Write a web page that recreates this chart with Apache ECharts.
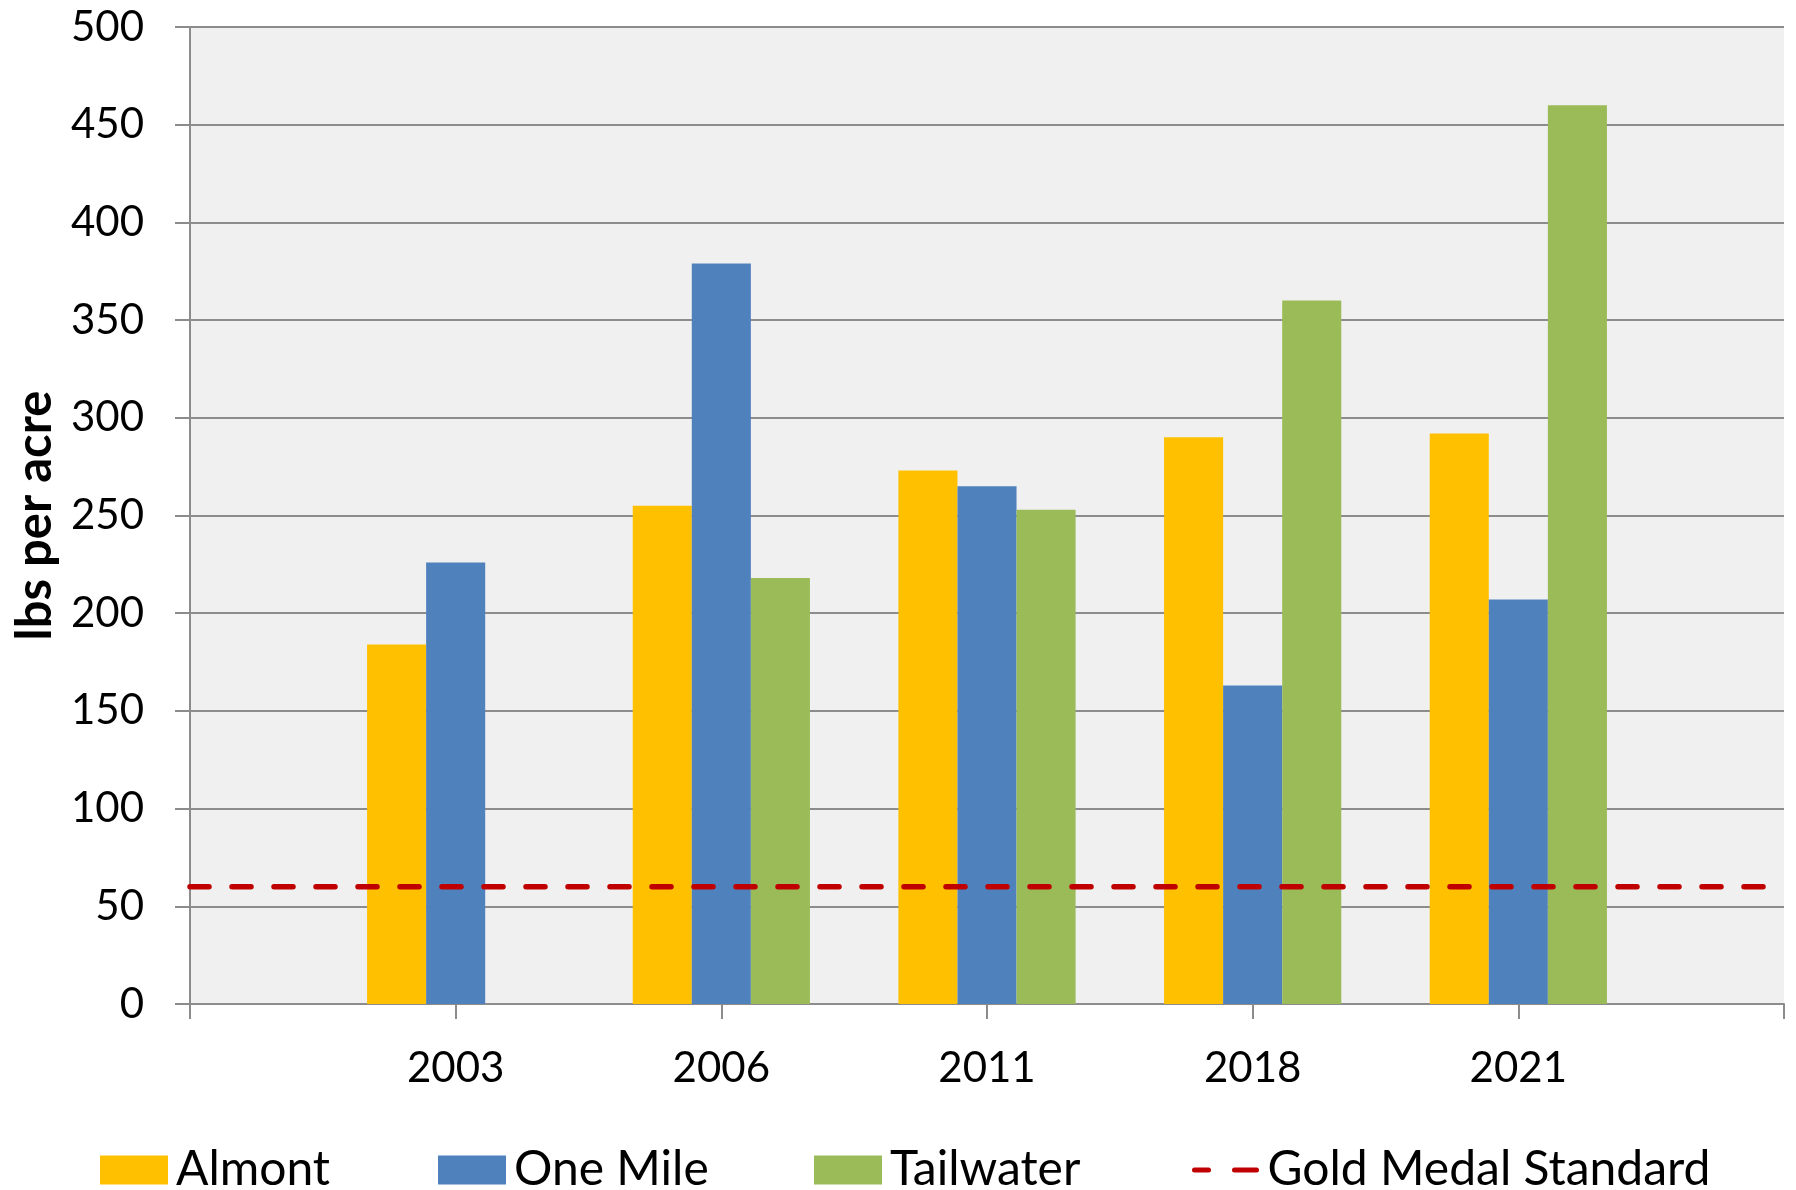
<!DOCTYPE html>
<html>
<head>
<meta charset="utf-8">
<script src="https://cdn.jsdelivr.net/npm/echarts@6/dist/echarts.min.js"></script>
<style>
  html, body { margin: 0; padding: 0; background: #fff; }
  #chart { width: 1796px; height: 1190px; }
</style>
</head>
<body>
<div id="chart"></div>
<script>
// survey years (blank slots at both ends, like the original axis)
const years = ['2003', '2006', '2011', '2018', '2021'];
const almont = [184, 255, 273, 290, 292];
const oneMile = [226, 379, 265, 163, 207];
const tailwater = ['-', 218, 253, 360, 460];
const goldMedal = 60;
const yTicks = { min: 0, max: 500, step: 50 };

const cats = [''].concat(years, ['']);
const pad = arr => ['-'].concat(arr, ['-']);
const goldLine = cats.map(() => goldMedal);

const font = 'Lato';
const gray = '#8c8c8c';

let myChart = echarts.init(document.getElementById('chart'));

function legendAt(name, left, icon, h) {
  return {
    data: [name],
    left: left,
    top: 1141,
    icon: icon || 'rect',
    itemWidth: 68,
    itemHeight: h || 29,
    textStyle: { fontFamily: font, fontSize: 48, color: '#000', padding: [0, 0, 0, 3] }
  };
}

myChart.setOption({
  animation: false,
  backgroundColor: '#fff',
  grid: {
    left: 190, right: 12, top: 27, height: 977,
    show: true, backgroundColor: '#f0f0f0', borderWidth: 0
  },
  legend: [
    legendAt('Almont', 95),
    legendAt('One Mile', 433),
    legendAt('Tailwater', 809),
    legendAt('Gold Medal Standard', 1187,
      'path://M2.5,0h14a2.5,2.5 0 0 1 0,5h-14a2.5,2.5 0 0 1 0,-5z M42.5,0h22a2.5,2.5 0 0 1 0,5h-22a2.5,2.5 0 0 1 0,-5z', 5)
  ],
  xAxis: {
    type: 'category',
    data: cats,
    boundaryGap: false,
    axisLine: { lineStyle: { color: gray, width: 2 } },
    axisTick: { show: true, length: 15, interval: 0, lineStyle: { color: gray, width: 2 } },
    axisLabel: { interval: 0, margin: 43, fontFamily: font, fontSize: 42, color: '#000' },
    splitLine: { show: false }
  },
  yAxis: {
    type: 'value',
    min: yTicks.min,
    max: yTicks.max,
    interval: yTicks.step,
    name: 'lbs per acre',
    nameLocation: 'middle',
    nameRotate: 90,
    nameGap: 130,
    nameTextStyle: { fontFamily: font, fontSize: 49, fontWeight: 'bold', color: '#000' },
    axisLine: { show: true, lineStyle: { color: gray, width: 2 } },
    axisTick: { show: true, length: 15, lineStyle: { color: gray, width: 2 } },
    axisLabel: { margin: 46, fontFamily: font, fontSize: 42, color: '#000' },
    splitLine: { lineStyle: { color: gray, width: 2 } }
  },
  series: [
    {
      name: 'Almont', type: 'bar', data: pad(almont),
      barGap: '0%', barCategoryGap: '33.3%',
      itemStyle: { color: '#ffc000' }
    },
    {
      name: 'One Mile', type: 'bar', data: pad(oneMile),
      barGap: '0%', barCategoryGap: '33.3%',
      itemStyle: { color: '#4f81bd' }
    },
    {
      name: 'Tailwater', type: 'bar', data: pad(tailwater),
      barGap: '0%', barCategoryGap: '33.3%',
      itemStyle: { color: '#9bbb59' }
    },
    {
      name: 'Gold Medal Standard', type: 'line', data: goldLine,
      symbol: 'none', z: 5,
      itemStyle: { color: '#c00000' },
      lineStyle: { color: '#c00000', width: 5.5, type: [19, 23], cap: 'round' }
    }
  ]
});
</script>
</body>
</html>
